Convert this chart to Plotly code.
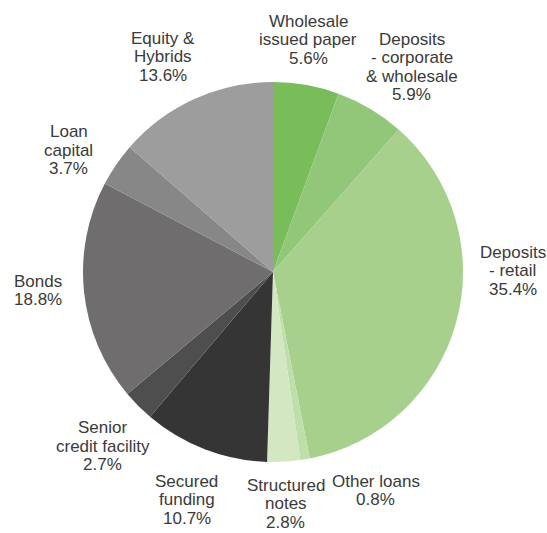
import math
import plotly.graph_objects as go

# Funding mix, clockwise from 12 o'clock
labels = [
    "Wholesale<br>issued paper",
    "Deposits<br>- corporate<br>& wholesale",
    "Deposits<br>- retail",
    "Other loans",
    "Structured<br>notes",
    "Secured<br>funding",
    "Senior<br>credit facility",
    "Bonds",
    "Loan<br>capital",
    "Equity &<br>Hybrids",
]
shares = [5.6, 5.9, 35.4, 0.8, 2.8, 10.7, 2.7, 18.8, 3.7, 13.6]
colors = [
    "#79bd5b", "#92c779", "#a8d08d", "#bedfa9", "#d3e7c3",
    "#353535", "#4f4e4f", "#6f6d6e", "#878787", "#9d9d9d",
]

# Label layout: offsets (px) applied after placing each label on a ring
label_nudge = [
    (-7, 4), (16, 1), (8, -64), (62, -18), (-1, -8),
    (0, 4), (0, 5), (4, -7), (-6, 14), (-11, 3),
]

W, H = 547, 533
CX, CY, R = 273, 272, 190
LABEL_R = 240
LINE_H = 18.5
FONT = dict(family="Liberation Sans, Arial, sans-serif", size=17, color="#3a3a3a")

fig = go.Figure(
    go.Pie(
        labels=labels,
        values=shares,
        sort=False,
        direction="clockwise",
        rotation=0,
        marker=dict(colors=colors, line=dict(width=0)),
        textinfo="none",
        hoverinfo="label+percent",
        domain=dict(
            x=[(CX - R) / W, (CX + R) / W],
            y=[(H - CY - R) / H, (H - CY + R) / H],
        ),
        showlegend=False,
    )
)

total = sum(shares)
cum = 0.0
annotations = []
for lab, v, (dx, dy) in zip(labels, shares, label_nudge):
    mid = (cum + v / 2) / total * 2 * math.pi
    cum += v
    px = CX + LABEL_R * math.sin(mid) + dx
    py = CY - LABEL_R * math.cos(mid) + dy
    lines = lab.split("<br>") + [f"{v:.1f}%"]
    top = py - LINE_H * (len(lines) - 1) / 2
    for i, line in enumerate(lines):
        annotations.append(
            dict(
                x=px / W,
                y=1 - (top + i * LINE_H) / H,
                xref="paper",
                yref="paper",
                text=line,
                showarrow=False,
                xanchor="center",
                yanchor="middle",
                font=FONT,
            )
        )

fig.update_layout(
    width=W,
    height=H,
    margin=dict(l=0, r=0, t=0, b=0),
    paper_bgcolor="white",
    plot_bgcolor="white",
    annotations=annotations,
)

fig.write_html("out.html")
